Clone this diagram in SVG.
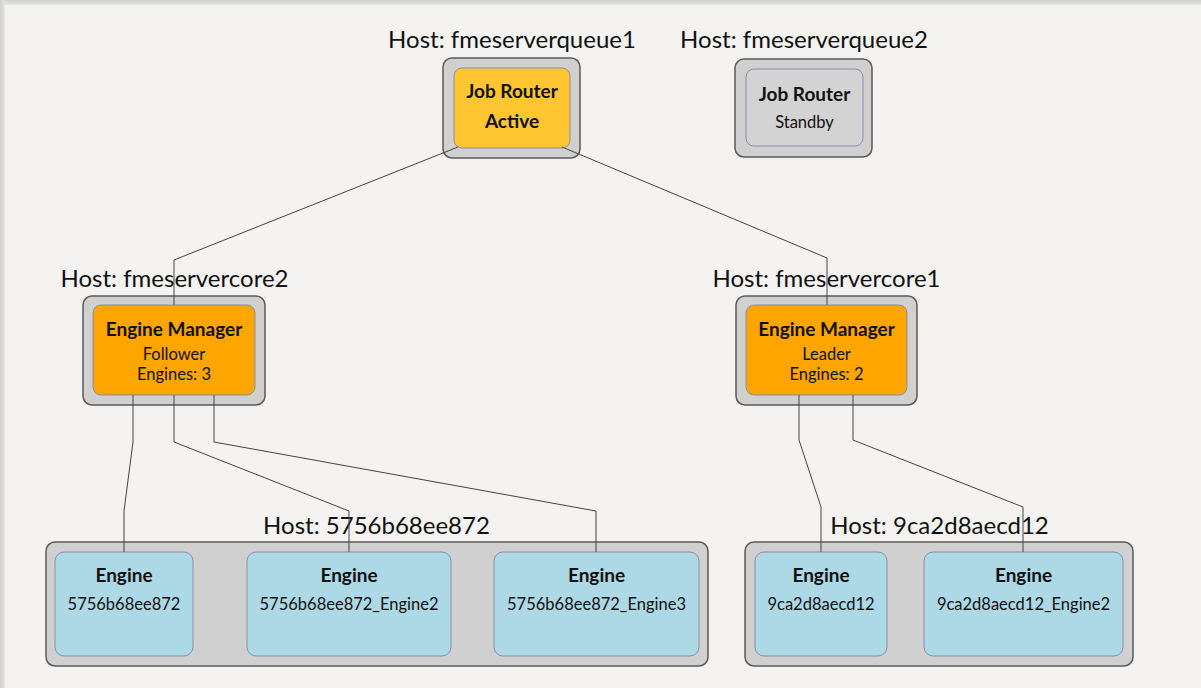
<svg xmlns="http://www.w3.org/2000/svg" width="1201" height="688" viewBox="0 0 1201 688">
<defs>
<linearGradient id="gTop" x1="0" y1="0" x2="0" y2="1"><stop offset="0" stop-color="#cfcfcd"/><stop offset="1" stop-color="#e6e6e4"/></linearGradient>
<linearGradient id="gLeft" x1="0" y1="0" x2="1" y2="0"><stop offset="0" stop-color="#cfcfcd"/><stop offset="1" stop-color="#e6e6e4"/></linearGradient>
</defs>
<style>
.host{font-family:Lato,"Liberation Sans",sans-serif;font-size:24px;fill:#111;text-anchor:middle}
.outer{fill:#d0d0d0;stroke:#5a5a5a;stroke-width:1.5}
.inner{stroke:#8c8ca4;stroke-width:1}
.jr{fill:#ffc631}
.sb{fill:#d3d3d3}
.em{fill:#ffa500}
.en{fill:#add8e6}
.b{font-family:Lato,"Liberation Sans",sans-serif;font-size:19px;font-weight:bold;fill:#111;text-anchor:middle}
.r{font-family:Lato,"Liberation Sans",sans-serif;font-size:16.5px;fill:#111;text-anchor:middle}
.c{fill:none;stroke:#444;stroke-width:1}
</style>
<rect x="0" y="0" width="1201" height="688" fill="#f4f3f1"/>
<rect x="0" y="0" width="1201" height="5" fill="url(#gTop)"/>
<rect x="0" y="0" width="5" height="688" fill="url(#gLeft)"/>

<g id="jobrouter-active">
<text class="host" x="512" y="48">Host: fmeserverqueue1</text>
<rect class="outer" x="443" y="58" width="137" height="100" rx="9"/>
<rect class="inner jr" x="454" y="68" width="116" height="80" rx="8"/>
<text class="b" x="512" y="98">Job Router</text>
<text class="b" x="512" y="128">Active</text>
</g>

<g id="jobrouter-standby">
<text class="host" x="804" y="48">Host: fmeserverqueue2</text>
<rect class="outer" x="735" y="59" width="137" height="98" rx="9"/>
<rect class="inner sb" x="746" y="69" width="117" height="77" rx="8"/>
<text class="b" x="804.5" y="101">Job Router</text>
<text class="r" x="804.5" y="128">Standby</text>
</g>

<g id="engmgr-core2">
<text class="host" x="174.5" y="287">Host: fmeservercore2</text>
<rect class="outer" x="83" y="296" width="182" height="109" rx="9"/>
<rect class="inner em" x="93" y="305" width="162" height="90" rx="8"/>
<text class="b" x="174" y="336">Engine Manager</text>
<text class="r" x="174" y="360">Follower</text>
<text class="r" x="174" y="380">Engines: 3</text>
</g>

<g id="engmgr-core1">
<text class="host" x="826.5" y="287">Host: fmeservercore1</text>
<rect class="outer" x="736" y="296" width="181" height="109" rx="9"/>
<rect class="inner em" x="746" y="305" width="161" height="90" rx="8"/>
<text class="b" x="826.5" y="336">Engine Manager</text>
<text class="r" x="826.5" y="360">Leader</text>
<text class="r" x="826.5" y="380">Engines: 2</text>
</g>

<g id="host-5756b68ee872">
<text class="host" x="376.5" y="534">Host: 5756b68ee872</text>
<rect class="outer" x="46" y="542" width="662" height="124" rx="9"/>
</g>
<g id="engine-5756b68ee872">
<rect class="inner en" x="55" y="552" width="138" height="104" rx="9"/>
<text class="b" x="124" y="582">Engine</text>
<text class="r" x="124" y="610">5756b68ee872</text>
</g>
<g id="engine-5756b68ee872-2">
<rect class="inner en" x="247" y="552" width="204" height="104" rx="9"/>
<text class="b" x="349" y="582">Engine</text>
<text class="r" x="349" y="610">5756b68ee872_Engine2</text>
</g>
<g id="engine-5756b68ee872-3">
<rect class="inner en" x="494" y="552" width="205" height="104" rx="9"/>
<text class="b" x="596.5" y="582">Engine</text>
<text class="r" x="596.5" y="610">5756b68ee872_Engine3</text>
</g>

<g id="host-9ca2d8aecd12">
<text class="host" x="939.5" y="534">Host: 9ca2d8aecd12</text>
<rect class="outer" x="745" y="542" width="388" height="124" rx="9"/>
</g>
<g id="engine-9ca2d8aecd12">
<rect class="inner en" x="755" y="552" width="132" height="104" rx="9"/>
<text class="b" x="821" y="582">Engine</text>
<text class="r" x="821" y="610">9ca2d8aecd12</text>
</g>
<g id="engine-9ca2d8aecd12-2">
<rect class="inner en" x="924" y="552" width="199" height="104" rx="9"/>
<text class="b" x="1023.5" y="582">Engine</text>
<text class="r" x="1023.5" y="610">9ca2d8aecd12_Engine2</text>
</g>

<g id="connectors">
<polyline class="c" points="458,147 174,260 174,305"/>
<polyline class="c" points="562,147 827,258 827,305"/>
<polyline class="c" points="133,395 133,442 124,511 124,552"/>
<polyline class="c" points="174,395 174,442 349,511 349,552"/>
<polyline class="c" points="214,395 214,442 596,511 596,552"/>
<polyline class="c" points="799,395 799,440 821,507 821,552"/>
<polyline class="c" points="853,395 853,440 1023,507 1023,552"/>
</g>
</svg>
